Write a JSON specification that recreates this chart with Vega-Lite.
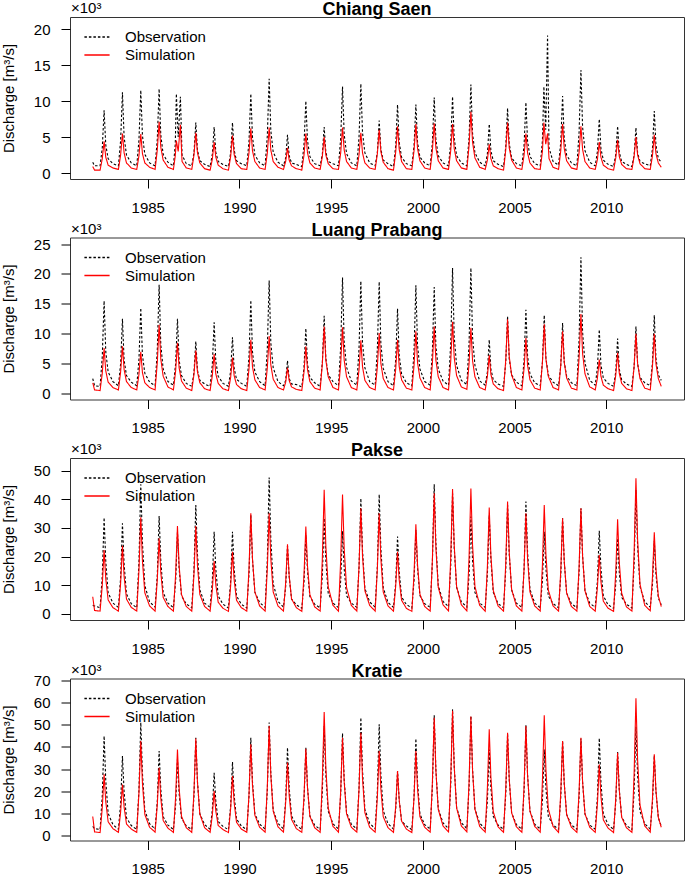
{
"$schema":"https://vega.github.io/schema/vega-lite/v6.json",
"padding":{"left":0,"right":0,"top":0,"bottom":0},
"config":{"font":"Liberation Sans","view":{"stroke":"#333","strokeWidth":1},"concat":{"spacing":4.5},"axis":{"labelOverlap":false,"grid":false,"domain":false,"tickSize":9,"tickColor":"black","labelColor":"black","labelFontSize":15,"titleColor":"black","titleFontWeight":"normal","titleFontSize":15},"axisX":{"labelPadding":12},"axisY":{"titlePadding":17,"labelPadding":11},
"legend":{"title":null,"orient":"none","legendX":17,"legendY":10,"padding":0,"labelFontSize":15,"labelColor":"black","symbolSize":324,"symbolStrokeWidth":1.5,"symbolType":"M-1.4,0H1.4","labelOffset":18,"rowPadding":0},
"title":{"fontSize":18,"fontWeight":"bold","color":"black","frame":"group","anchor":"middle","offset":-18,"baseline":"alphabetic"}},
"datasets":{
"cs":[
{"t":1982,"o":1.5,"m":0.9},
{"t":1982.1,"o":1.0,"m":0.4},{"t":1982.4,"o":1.0,"m":0.4},{"t":1982.52,"o":3.5,"m":2.0},{"t":1982.62,"o":8.7,"m":4.4},{"t":1982.71,"o":3.9,"m":2.2},{"t":1982.84,"o":2.0,"m":1.1},
{"t":1983.1,"o":1.3,"m":0.7},{"t":1983.4,"o":1.0,"m":0.5},{"t":1983.52,"o":4.5,"m":2.5},{"t":1983.62,"o":11.2,"m":5.5},{"t":1983.71,"o":5.0,"m":2.8},{"t":1983.84,"o":2.5,"m":1.4},
{"t":1984.1,"o":1.4,"m":0.7},{"t":1984.4,"o":1.0,"m":0.5},{"t":1984.52,"o":4.6,"m":2.4},{"t":1984.62,"o":11.5,"m":5.4},{"t":1984.71,"o":5.2,"m":2.7},{"t":1984.84,"o":2.6,"m":1.4},
{"t":1985.1,"o":1.4,"m":0.8},{"t":1985.4,"o":1.0,"m":0.5},{"t":1985.52,"o":4.7,"m":3.2},{"t":1985.62,"o":11.7,"m":7.1},{"t":1985.71,"o":5.3,"m":3.6},{"t":1985.84,"o":2.6,"m":1.8},
{"t":1986.1,"o":1.5,"m":0.8},{"t":1986.4,"o":1.0,"m":0.5},{"t":1986.5,"o":4.0,"m":2.4},{"t":1986.56,"o":11.0,"m":4.5},{"t":1986.66,"o":5.0,"m":3.0},{"t":1986.78,"o":10.6,"m":6.7},{"t":1986.87,"o":2.5,"m":1.6},
{"t":1987.1,"o":1.3,"m":0.7},{"t":1987.4,"o":1.0,"m":0.5},{"t":1987.52,"o":2.8,"m":2.5},{"t":1987.62,"o":7.0,"m":5.6},{"t":1987.71,"o":3.2,"m":2.8},{"t":1987.84,"o":1.7,"m":1.4},
{"t":1988.1,"o":1.2,"m":0.6},{"t":1988.4,"o":0.9,"m":0.4},{"t":1988.52,"o":2.6,"m":1.9},{"t":1988.62,"o":6.4,"m":4.3},{"t":1988.71,"o":2.9,"m":2.2},{"t":1988.84,"o":1.6,"m":1.1},
{"t":1989.1,"o":1.2,"m":0.6},{"t":1989.4,"o":0.9,"m":0.4},{"t":1989.52,"o":2.8,"m":2.3},{"t":1989.62,"o":7.0,"m":5.2},{"t":1989.71,"o":3.2,"m":2.6},{"t":1989.84,"o":1.7,"m":1.3},
{"t":1990.1,"o":1.3,"m":0.6},{"t":1990.4,"o":1.0,"m":0.5},{"t":1990.52,"o":4.4,"m":2.8},{"t":1990.62,"o":11.0,"m":6.2},{"t":1990.71,"o":5.0,"m":3.1},{"t":1990.84,"o":2.5,"m":1.6},
{"t":1991.1,"o":1.4,"m":0.7},{"t":1991.4,"o":1.0,"m":0.5},{"t":1991.52,"o":5.2,"m":2.8},{"t":1991.62,"o":13.1,"m":6.3},{"t":1991.71,"o":5.9,"m":3.2},{"t":1991.84,"o":2.9,"m":1.6},
{"t":1992.1,"o":1.5,"m":0.8},{"t":1992.4,"o":1.0,"m":0.5},{"t":1992.52,"o":2.1,"m":1.6},{"t":1992.62,"o":5.3,"m":3.5},{"t":1992.71,"o":2.4,"m":1.8},{"t":1992.84,"o":1.4,"m":1.0},
{"t":1993.1,"o":1.2,"m":0.6},{"t":1993.4,"o":0.9,"m":0.4},{"t":1993.52,"o":4.0,"m":2.5},{"t":1993.62,"o":10.0,"m":5.5},{"t":1993.71,"o":4.5,"m":2.8},{"t":1993.84,"o":2.3,"m":1.4},
{"t":1994.1,"o":1.3,"m":0.7},{"t":1994.4,"o":1.0,"m":0.5},{"t":1994.52,"o":2.6,"m":2.3},{"t":1994.62,"o":6.4,"m":5.0},{"t":1994.71,"o":2.9,"m":2.5},{"t":1994.84,"o":1.6,"m":1.3},
{"t":1995.1,"o":1.3,"m":0.6},{"t":1995.4,"o":1.0,"m":0.5},{"t":1995.52,"o":4.8,"m":2.8},{"t":1995.62,"o":12.0,"m":6.3},{"t":1995.71,"o":5.4,"m":3.2},{"t":1995.84,"o":2.7,"m":1.6},
{"t":1996.1,"o":1.4,"m":0.7},{"t":1996.4,"o":1.0,"m":0.5},{"t":1996.52,"o":5.0,"m":2.5},{"t":1996.62,"o":12.4,"m":5.6},{"t":1996.71,"o":5.6,"m":2.8},{"t":1996.84,"o":2.8,"m":1.4},
{"t":1997.1,"o":1.4,"m":0.7},{"t":1997.4,"o":1.0,"m":0.5},{"t":1997.52,"o":2.9,"m":2.7},{"t":1997.62,"o":7.3,"m":6.0},{"t":1997.71,"o":3.3,"m":3.0},{"t":1997.84,"o":1.8,"m":1.5},
{"t":1998.1,"o":1.3,"m":0.6},{"t":1998.4,"o":0.9,"m":0.4},{"t":1998.52,"o":3.8,"m":2.9},{"t":1998.62,"o":9.5,"m":6.5},{"t":1998.71,"o":4.3,"m":3.3},{"t":1998.84,"o":2.2,"m":1.6},
{"t":1999.1,"o":1.3,"m":0.6},{"t":1999.4,"o":1.0,"m":0.5},{"t":1999.52,"o":3.8,"m":3.1},{"t":1999.62,"o":9.5,"m":6.8},{"t":1999.71,"o":4.3,"m":3.4},{"t":1999.84,"o":2.2,"m":1.7},
{"t":2000.1,"o":1.4,"m":0.7},{"t":2000.4,"o":1.0,"m":0.5},{"t":2000.52,"o":4.2,"m":3.1},{"t":2000.62,"o":10.5,"m":6.9},{"t":2000.71,"o":4.7,"m":3.5},{"t":2000.84,"o":2.4,"m":1.7},
{"t":2001.1,"o":1.4,"m":0.7},{"t":2001.4,"o":1.0,"m":0.5},{"t":2001.52,"o":4.2,"m":3.1},{"t":2001.62,"o":10.6,"m":6.8},{"t":2001.71,"o":4.8,"m":3.4},{"t":2001.84,"o":2.4,"m":1.7},
{"t":2002.1,"o":1.4,"m":0.7},{"t":2002.4,"o":1.0,"m":0.5},{"t":2002.52,"o":4.9,"m":3.8},{"t":2002.62,"o":12.3,"m":8.5},{"t":2002.71,"o":5.5,"m":4.3},{"t":2002.84,"o":2.8,"m":2.1},
{"t":2003.1,"o":1.5,"m":0.8},{"t":2003.4,"o":1.0,"m":0.5},{"t":2003.52,"o":2.7,"m":1.8},{"t":2003.62,"o":6.8,"m":4.0},{"t":2003.71,"o":3.1,"m":2.0},{"t":2003.84,"o":1.7,"m":1.0},
{"t":2004.1,"o":1.2,"m":0.6},{"t":2004.4,"o":0.9,"m":0.4},{"t":2004.52,"o":3.6,"m":3.2},{"t":2004.62,"o":9.0,"m":7.0},{"t":2004.71,"o":4.1,"m":3.5},{"t":2004.84,"o":2.1,"m":1.8},
{"t":2005.1,"o":1.3,"m":0.7},{"t":2005.4,"o":1.0,"m":0.5},{"t":2005.52,"o":3.9,"m":2.5},{"t":2005.62,"o":9.8,"m":5.5},{"t":2005.71,"o":4.4,"m":2.8},{"t":2005.84,"o":2.3,"m":1.4},
{"t":2006.1,"o":1.3,"m":0.6},{"t":2006.4,"o":1.0,"m":0.5},{"t":2006.52,"o":4.5,"m":3.0},{"t":2006.6,"o":12.0,"m":7.0},{"t":2006.7,"o":6.0,"m":4.0},{"t":2006.8,"o":19.1,"m":5.5},{"t":2006.88,"o":3.5,"m":2.0},
{"t":2007.1,"o":1.6,"m":0.8},{"t":2007.4,"o":1.1,"m":0.5},{"t":2007.52,"o":4.3,"m":3.1},{"t":2007.62,"o":10.7,"m":6.8},{"t":2007.71,"o":4.8,"m":3.4},{"t":2007.84,"o":2.5,"m":1.7},
{"t":2008.1,"o":1.4,"m":0.7},{"t":2008.4,"o":1.0,"m":0.5},{"t":2008.52,"o":5.7,"m":2.9},{"t":2008.62,"o":14.3,"m":6.5},{"t":2008.71,"o":6.4,"m":3.3},{"t":2008.84,"o":3.1,"m":1.6},
{"t":2009.1,"o":1.5,"m":0.7},{"t":2009.4,"o":1.0,"m":0.5},{"t":2009.52,"o":3.0,"m":1.9},{"t":2009.62,"o":7.5,"m":4.3},{"t":2009.71,"o":3.4,"m":2.2},{"t":2009.84,"o":1.8,"m":1.1},
{"t":2010.1,"o":1.2,"m":0.6},{"t":2010.4,"o":0.9,"m":0.4},{"t":2010.52,"o":2.6,"m":2.1},{"t":2010.62,"o":6.5,"m":4.6},{"t":2010.71,"o":2.9,"m":2.3},{"t":2010.84,"o":1.6,"m":1.2},
{"t":2011.1,"o":1.2,"m":0.6},{"t":2011.4,"o":0.9,"m":0.5},{"t":2011.52,"o":2.5,"m":2.3},{"t":2011.62,"o":6.3,"m":5.0},{"t":2011.71,"o":2.8,"m":2.5},{"t":2011.84,"o":1.6,"m":1.3},
{"t":2012.1,"o":1.3,"m":0.6},{"t":2012.4,"o":1.0,"m":0.5},{"t":2012.52,"o":3.4,"m":2.4},{"t":2012.62,"o":8.6,"m":5.3},{"t":2012.71,"o":3.9,"m":2.7},{"t":2012.84,"o":2.0,"m":1.4},
{"t":2013,"o":1.5,"m":0.8}
],
"lp":[
{"t":1982,"o":2.5,"m":1.8},
{"t":1982.1,"o":1.3,"m":0.6},{"t":1982.4,"o":1.2,"m":0.5},{"t":1982.52,"o":6.2,"m":3.4},{"t":1982.62,"o":15.5,"m":7.6},{"t":1982.71,"o":7.0,"m":3.8},{"t":1982.84,"o":3.6,"m":1.9},
{"t":1983.1,"o":2.0,"m":1.0},{"t":1983.4,"o":1.3,"m":0.6},{"t":1983.52,"o":5.0,"m":3.6},{"t":1983.62,"o":12.5,"m":7.9},{"t":1983.71,"o":5.6,"m":4.0},{"t":1983.84,"o":3.0,"m":2.0},
{"t":1984.1,"o":1.9,"m":1.0},{"t":1984.4,"o":1.3,"m":0.6},{"t":1984.52,"o":5.7,"m":3.2},{"t":1984.62,"o":14.3,"m":7.0},{"t":1984.71,"o":6.4,"m":3.5},{"t":1984.84,"o":3.4,"m":1.8},
{"t":1985.1,"o":1.9,"m":1.0},{"t":1985.4,"o":1.3,"m":0.6},{"t":1985.52,"o":7.3,"m":5.2},{"t":1985.62,"o":18.2,"m":11.5},{"t":1985.71,"o":8.2,"m":5.8},{"t":1985.84,"o":4.1,"m":2.9},
{"t":1986.1,"o":2.0,"m":1.1},{"t":1986.4,"o":1.4,"m":0.6},{"t":1986.52,"o":5.0,"m":3.8},{"t":1986.62,"o":12.5,"m":8.5},{"t":1986.71,"o":5.6,"m":4.3},{"t":1986.84,"o":3.0,"m":2.1},
{"t":1987.1,"o":1.7,"m":0.9},{"t":1987.4,"o":1.2,"m":0.5},{"t":1987.52,"o":3.5,"m":3.2},{"t":1987.62,"o":8.7,"m":7.2},{"t":1987.71,"o":3.9,"m":3.6},{"t":1987.84,"o":2.2,"m":1.8},
{"t":1988.1,"o":1.6,"m":0.8},{"t":1988.4,"o":1.2,"m":0.5},{"t":1988.52,"o":4.8,"m":3.0},{"t":1988.62,"o":11.9,"m":6.6},{"t":1988.71,"o":5.4,"m":3.3},{"t":1988.84,"o":2.9,"m":1.7},
{"t":1989.1,"o":1.7,"m":0.8},{"t":1989.4,"o":1.2,"m":0.5},{"t":1989.52,"o":3.8,"m":2.7},{"t":1989.62,"o":9.4,"m":6.0},{"t":1989.71,"o":4.2,"m":3.0},{"t":1989.84,"o":2.4,"m":1.5},
{"t":1990.1,"o":1.7,"m":0.8},{"t":1990.4,"o":1.2,"m":0.5},{"t":1990.52,"o":6.2,"m":4.1},{"t":1990.62,"o":15.6,"m":9.0},{"t":1990.71,"o":7.0,"m":4.5},{"t":1990.84,"o":3.6,"m":2.3},
{"t":1991.1,"o":2.0,"m":1.0},{"t":1991.4,"o":1.3,"m":0.6},{"t":1991.52,"o":7.6,"m":4.3},{"t":1991.62,"o":18.9,"m":9.6},{"t":1991.71,"o":8.5,"m":4.8},{"t":1991.84,"o":4.3,"m":2.4},
{"t":1992.1,"o":2.0,"m":1.0},{"t":1992.4,"o":1.3,"m":0.6},{"t":1992.52,"o":2.2,"m":1.9},{"t":1992.62,"o":5.5,"m":4.3},{"t":1992.71,"o":2.5,"m":2.2},{"t":1992.84,"o":1.6,"m":1.1},
{"t":1993.1,"o":1.5,"m":0.7},{"t":1993.4,"o":1.1,"m":0.5},{"t":1993.52,"o":4.4,"m":3.6},{"t":1993.62,"o":10.9,"m":7.9},{"t":1993.71,"o":4.9,"m":4.0},{"t":1993.84,"o":2.7,"m":2.0},
{"t":1994.1,"o":1.8,"m":0.9},{"t":1994.4,"o":1.2,"m":0.6},{"t":1994.52,"o":5.2,"m":5.0},{"t":1994.62,"o":13.0,"m":11.2},{"t":1994.71,"o":5.9,"m":5.6},{"t":1994.84,"o":3.1,"m":2.8},
{"t":1995.1,"o":2.0,"m":1.0},{"t":1995.4,"o":1.3,"m":0.6},{"t":1995.52,"o":7.8,"m":5.0},{"t":1995.62,"o":19.4,"m":11.1},{"t":1995.71,"o":8.7,"m":5.6},{"t":1995.84,"o":4.4,"m":2.8},
{"t":1996.1,"o":2.1,"m":1.0},{"t":1996.4,"o":1.4,"m":0.6},{"t":1996.52,"o":7.5,"m":4.0},{"t":1996.62,"o":18.8,"m":8.9},{"t":1996.71,"o":8.5,"m":4.5},{"t":1996.84,"o":4.3,"m":2.2},
{"t":1997.1,"o":2.0,"m":1.0},{"t":1997.4,"o":1.4,"m":0.6},{"t":1997.52,"o":7.5,"m":4.5},{"t":1997.62,"o":18.7,"m":10.1},{"t":1997.71,"o":8.4,"m":5.1},{"t":1997.84,"o":4.2,"m":2.5},
{"t":1998.1,"o":2.0,"m":1.0},{"t":1998.4,"o":1.3,"m":0.6},{"t":1998.52,"o":5.7,"m":4.1},{"t":1998.62,"o":14.2,"m":9.0},{"t":1998.71,"o":6.4,"m":4.5},{"t":1998.84,"o":3.3,"m":2.3},
{"t":1999.1,"o":1.8,"m":0.9},{"t":1999.4,"o":1.3,"m":0.6},{"t":1999.52,"o":7.2,"m":4.7},{"t":1999.62,"o":18.1,"m":10.4},{"t":1999.71,"o":8.1,"m":5.2},{"t":1999.84,"o":4.1,"m":2.6},
{"t":2000.1,"o":2.0,"m":1.0},{"t":2000.4,"o":1.4,"m":0.6},{"t":2000.52,"o":7.1,"m":5.0},{"t":2000.62,"o":17.8,"m":11.2},{"t":2000.71,"o":8.0,"m":5.6},{"t":2000.84,"o":4.1,"m":2.8},
{"t":2001.1,"o":2.1,"m":1.0},{"t":2001.4,"o":1.4,"m":0.6},{"t":2001.52,"o":8.4,"m":5.4},{"t":2001.62,"o":21.0,"m":12.0},{"t":2001.71,"o":9.5,"m":6.0},{"t":2001.84,"o":4.7,"m":3.0},
{"t":2002.1,"o":2.2,"m":1.1},{"t":2002.4,"o":1.5,"m":0.7},{"t":2002.52,"o":8.4,"m":5.0},{"t":2002.62,"o":21.0,"m":11.0},{"t":2002.71,"o":9.5,"m":5.5},{"t":2002.84,"o":4.7,"m":2.8},
{"t":2003.1,"o":2.1,"m":1.0},{"t":2003.4,"o":1.4,"m":0.6},{"t":2003.52,"o":3.6,"m":2.9},{"t":2003.62,"o":9.0,"m":6.4},{"t":2003.71,"o":4.1,"m":3.2},{"t":2003.84,"o":2.3,"m":1.6},
{"t":2004.1,"o":1.6,"m":0.8},{"t":2004.4,"o":1.2,"m":0.5},{"t":2004.52,"o":5.2,"m":5.6},{"t":2004.62,"o":12.9,"m":12.4},{"t":2004.71,"o":5.8,"m":6.2},{"t":2004.84,"o":3.1,"m":3.1},
{"t":2005.1,"o":1.9,"m":1.0},{"t":2005.4,"o":1.3,"m":0.6},{"t":2005.52,"o":5.6,"m":4.2},{"t":2005.62,"o":14.0,"m":9.3},{"t":2005.71,"o":6.3,"m":4.7},{"t":2005.84,"o":3.3,"m":2.3},
{"t":2006.1,"o":1.8,"m":0.9},{"t":2006.4,"o":1.3,"m":0.6},{"t":2006.52,"o":5.2,"m":5.2},{"t":2006.62,"o":13.1,"m":11.6},{"t":2006.71,"o":5.9,"m":5.8},{"t":2006.84,"o":3.1,"m":2.9},
{"t":2007.1,"o":1.9,"m":1.0},{"t":2007.4,"o":1.3,"m":0.6},{"t":2007.52,"o":4.7,"m":4.7},{"t":2007.62,"o":11.8,"m":10.4},{"t":2007.71,"o":5.3,"m":5.2},{"t":2007.84,"o":2.9,"m":2.6},
{"t":2008.1,"o":1.8,"m":0.9},{"t":2008.4,"o":1.3,"m":0.6},{"t":2008.52,"o":9.1,"m":6.0},{"t":2008.62,"o":22.8,"m":13.3},{"t":2008.71,"o":10.3,"m":6.7},{"t":2008.84,"o":5.1,"m":3.3},
{"t":2009.1,"o":2.2,"m":1.1},{"t":2009.4,"o":1.4,"m":0.6},{"t":2009.52,"o":4.3,"m":2.6},{"t":2009.62,"o":10.7,"m":5.7},{"t":2009.71,"o":4.8,"m":2.9},{"t":2009.84,"o":2.6,"m":1.4},
{"t":2010.1,"o":1.7,"m":0.8},{"t":2010.4,"o":1.2,"m":0.5},{"t":2010.52,"o":3.7,"m":3.1},{"t":2010.62,"o":9.2,"m":6.8},{"t":2010.71,"o":4.1,"m":3.4},{"t":2010.84,"o":2.3,"m":1.7},
{"t":2011.1,"o":1.6,"m":0.8},{"t":2011.4,"o":1.2,"m":0.5},{"t":2011.52,"o":4.5,"m":4.5},{"t":2011.62,"o":11.2,"m":10.0},{"t":2011.71,"o":5.0,"m":5.0},{"t":2011.84,"o":2.7,"m":2.5},
{"t":2012.1,"o":1.8,"m":0.9},{"t":2012.4,"o":1.3,"m":0.6},{"t":2012.52,"o":5.2,"m":4.5},{"t":2012.62,"o":13.1,"m":10.0},{"t":2012.71,"o":5.9,"m":5.0},{"t":2012.84,"o":3.1,"m":2.5},
{"t":2013,"o":2.2,"m":1.2}
],
"pk":[
{"t":1982,"o":3.0,"m":6.0},
{"t":1982.1,"o":2.8,"m":1.2},{"t":1982.4,"o":2.2,"m":1.0},{"t":1982.52,"o":13.4,"m":10.0},{"t":1982.62,"o":33.6,"m":22.3},{"t":1982.71,"o":18.5,"m":12.3},{"t":1982.84,"o":7.4,"m":4.9},
{"t":1983.1,"o":3.8,"m":2.2},{"t":1983.4,"o":2.3,"m":1.0},{"t":1983.52,"o":12.6,"m":10.7},{"t":1983.62,"o":31.6,"m":23.8},{"t":1983.71,"o":17.4,"m":13.1},{"t":1983.84,"o":7.0,"m":5.2},
{"t":1984.1,"o":3.6,"m":2.3},{"t":1984.4,"o":2.2,"m":1.0},{"t":1984.52,"o":18.1,"m":15.2},{"t":1984.62,"o":45.2,"m":33.7},{"t":1984.71,"o":24.9,"m":18.5},{"t":1984.84,"o":9.9,"m":7.4},
{"t":1985.1,"o":4.2,"m":2.8},{"t":1985.4,"o":2.4,"m":1.0},{"t":1985.52,"o":13.7,"m":11.9},{"t":1985.62,"o":34.2,"m":26.4},{"t":1985.71,"o":18.8,"m":14.5},{"t":1985.84,"o":7.5,"m":5.8},
{"t":1986.1,"o":3.8,"m":2.6},{"t":1986.4,"o":2.2,"m":1.0},{"t":1986.52,"o":11.4,"m":13.8},{"t":1986.62,"o":28.5,"m":30.7},{"t":1986.71,"o":15.7,"m":16.9},{"t":1986.84,"o":6.3,"m":6.8},
{"t":1987.1,"o":3.5,"m":2.6},{"t":1987.4,"o":2.2,"m":1.0},{"t":1987.52,"o":15.2,"m":13.8},{"t":1987.62,"o":38.0,"m":30.7},{"t":1987.71,"o":20.9,"m":16.9},{"t":1987.84,"o":8.4,"m":6.8},
{"t":1988.1,"o":3.8,"m":2.6},{"t":1988.4,"o":2.3,"m":1.0},{"t":1988.52,"o":11.5,"m":8.3},{"t":1988.62,"o":28.7,"m":18.5},{"t":1988.71,"o":15.8,"m":10.2},{"t":1988.84,"o":6.3,"m":4.1},
{"t":1989.1,"o":3.4,"m":2.0},{"t":1989.4,"o":2.1,"m":0.9},{"t":1989.52,"o":11.5,"m":9.8},{"t":1989.62,"o":28.7,"m":21.7},{"t":1989.71,"o":15.8,"m":11.9},{"t":1989.84,"o":6.3,"m":4.8},
{"t":1990.1,"o":3.4,"m":2.2},{"t":1990.4,"o":2.1,"m":1.0},{"t":1990.52,"o":13.8,"m":15.8},{"t":1990.62,"o":34.5,"m":35.1},{"t":1990.71,"o":19.0,"m":19.3},{"t":1990.84,"o":7.6,"m":7.7},
{"t":1991.1,"o":4.0,"m":2.8},{"t":1991.4,"o":2.3,"m":1.0},{"t":1991.52,"o":19.0,"m":15.8},{"t":1991.62,"o":47.6,"m":35.1},{"t":1991.71,"o":26.2,"m":19.3},{"t":1991.84,"o":10.5,"m":7.7},
{"t":1992.1,"o":4.4,"m":2.8},{"t":1992.4,"o":2.4,"m":1.0},{"t":1992.52,"o":9.5,"m":10.9},{"t":1992.62,"o":23.8,"m":24.3},{"t":1992.71,"o":13.1,"m":13.4},{"t":1992.84,"o":5.2,"m":5.3},
{"t":1993.1,"o":3.2,"m":2.2},{"t":1993.4,"o":2.0,"m":0.9},{"t":1993.52,"o":11.0,"m":13.7},{"t":1993.62,"o":27.6,"m":30.5},{"t":1993.71,"o":15.2,"m":16.8},{"t":1993.84,"o":6.1,"m":6.7},
{"t":1994.1,"o":3.4,"m":2.5},{"t":1994.4,"o":2.1,"m":1.0},{"t":1994.52,"o":13.4,"m":19.5},{"t":1994.62,"o":33.4,"m":43.3},{"t":1994.71,"o":18.4,"m":23.8},{"t":1994.84,"o":7.3,"m":9.5},
{"t":1995.1,"o":3.8,"m":3.0},{"t":1995.4,"o":2.2,"m":1.0},{"t":1995.52,"o":11.6,"m":18.8},{"t":1995.62,"o":28.9,"m":41.7},{"t":1995.71,"o":15.9,"m":22.9},{"t":1995.84,"o":6.4,"m":9.2},
{"t":1996.1,"o":3.8,"m":3.0},{"t":1996.4,"o":2.3,"m":1.0},{"t":1996.52,"o":16.1,"m":16.6},{"t":1996.62,"o":40.3,"m":36.9},{"t":1996.71,"o":22.2,"m":20.3},{"t":1996.84,"o":8.9,"m":8.1},
{"t":1997.1,"o":4.2,"m":3.0},{"t":1997.4,"o":2.4,"m":1.0},{"t":1997.52,"o":16.7,"m":15.8},{"t":1997.62,"o":41.7,"m":35.1},{"t":1997.71,"o":22.9,"m":19.3},{"t":1997.84,"o":9.2,"m":7.7},
{"t":1998.1,"o":4.0,"m":2.8},{"t":1998.4,"o":2.3,"m":1.0},{"t":1998.52,"o":10.8,"m":9.8},{"t":1998.62,"o":27.0,"m":21.7},{"t":1998.71,"o":14.9,"m":11.9},{"t":1998.84,"o":5.9,"m":4.8},
{"t":1999.1,"o":3.3,"m":2.0},{"t":1999.4,"o":2.1,"m":0.9},{"t":1999.52,"o":11.7,"m":14.1},{"t":1999.62,"o":29.3,"m":31.3},{"t":1999.71,"o":16.1,"m":17.2},{"t":1999.84,"o":6.4,"m":6.9},
{"t":2000.1,"o":3.6,"m":2.6},{"t":2000.4,"o":2.3,"m":1.0},{"t":2000.52,"o":18.1,"m":18.9},{"t":2000.62,"o":45.2,"m":42.1},{"t":2000.71,"o":24.9,"m":23.2},{"t":2000.84,"o":9.9,"m":9.3},
{"t":2001.1,"o":4.4,"m":3.2},{"t":2001.4,"o":2.5,"m":1.1},{"t":2001.52,"o":16.8,"m":19.6},{"t":2001.62,"o":42.1,"m":43.6},{"t":2001.71,"o":23.2,"m":24.0},{"t":2001.84,"o":9.3,"m":9.6},
{"t":2002.1,"o":4.2,"m":3.2},{"t":2002.4,"o":2.4,"m":1.1},{"t":2002.52,"o":13.6,"m":19.7},{"t":2002.62,"o":34.0,"m":43.8},{"t":2002.71,"o":18.7,"m":24.1},{"t":2002.84,"o":7.5,"m":9.6},
{"t":2003.1,"o":3.8,"m":3.0},{"t":2003.4,"o":2.3,"m":1.0},{"t":2003.52,"o":13.8,"m":16.7},{"t":2003.62,"o":34.5,"m":37.1},{"t":2003.71,"o":19.0,"m":20.4},{"t":2003.84,"o":7.6,"m":8.2},
{"t":2004.1,"o":3.6,"m":2.8},{"t":2004.4,"o":2.2,"m":1.0},{"t":2004.52,"o":15.2,"m":17.6},{"t":2004.62,"o":38.0,"m":39.2},{"t":2004.71,"o":20.9,"m":21.6},{"t":2004.84,"o":8.4,"m":8.6},
{"t":2005.1,"o":3.8,"m":2.8},{"t":2005.4,"o":2.3,"m":1.0},{"t":2005.52,"o":15.7,"m":15.8},{"t":2005.62,"o":39.2,"m":35.1},{"t":2005.71,"o":21.6,"m":19.3},{"t":2005.84,"o":8.6,"m":7.7},
{"t":2006.1,"o":3.8,"m":2.8},{"t":2006.4,"o":2.2,"m":1.0},{"t":2006.52,"o":11.5,"m":17.1},{"t":2006.62,"o":28.7,"m":38.0},{"t":2006.71,"o":15.8,"m":20.9},{"t":2006.84,"o":6.3,"m":8.4},
{"t":2007.1,"o":3.6,"m":2.8},{"t":2007.4,"o":2.2,"m":1.0},{"t":2007.52,"o":13.4,"m":15.0},{"t":2007.62,"o":33.4,"m":33.4},{"t":2007.71,"o":18.4,"m":18.4},{"t":2007.84,"o":7.3,"m":7.3},
{"t":2008.1,"o":3.6,"m":2.6},{"t":2008.4,"o":2.2,"m":1.0},{"t":2008.52,"o":14.8,"m":16.6},{"t":2008.62,"o":36.9,"m":36.9},{"t":2008.71,"o":20.3,"m":20.3},{"t":2008.84,"o":8.1,"m":8.1},
{"t":2009.1,"o":3.8,"m":2.6},{"t":2009.4,"o":2.3,"m":1.0},{"t":2009.52,"o":11.6,"m":9.3},{"t":2009.62,"o":29.0,"m":20.6},{"t":2009.71,"o":16.0,"m":11.3},{"t":2009.84,"o":6.4,"m":4.5},
{"t":2010.1,"o":3.2,"m":2.0},{"t":2010.4,"o":2.0,"m":0.9},{"t":2010.52,"o":10.6,"m":14.9},{"t":2010.62,"o":26.4,"m":33.0},{"t":2010.71,"o":14.5,"m":18.2},{"t":2010.84,"o":5.8,"m":7.3},
{"t":2011.1,"o":3.4,"m":2.5},{"t":2011.4,"o":2.1,"m":1.0},{"t":2011.52,"o":17.3,"m":21.3},{"t":2011.62,"o":43.3,"m":47.3},{"t":2011.71,"o":23.8,"m":26.0},{"t":2011.84,"o":9.5,"m":10.4},
{"t":2012.1,"o":4.2,"m":3.0},{"t":2012.4,"o":2.4,"m":1.1},{"t":2012.52,"o":10.2,"m":12.8},{"t":2012.62,"o":25.5,"m":28.5},{"t":2012.71,"o":14.0,"m":15.7},{"t":2012.84,"o":5.6,"m":6.3},
{"t":2013,"o":3.2,"m":2.6}
],
"kr":[
{"t":1982,"o":4.0,"m":8.5},
{"t":1982.1,"o":3.0,"m":1.5},{"t":1982.4,"o":2.6,"m":1.2},{"t":1982.52,"o":18.0,"m":12.4},{"t":1982.62,"o":45.0,"m":27.6},{"t":1982.71,"o":24.8,"m":15.2},{"t":1982.84,"o":9.9,"m":6.1},
{"t":1983.1,"o":4.8,"m":3.0},{"t":1983.4,"o":2.7,"m":1.3},{"t":1983.52,"o":14.4,"m":10.4},{"t":1983.62,"o":35.9,"m":23.0},{"t":1983.71,"o":19.7,"m":12.7},{"t":1983.84,"o":7.9,"m":5.1},
{"t":1984.1,"o":4.4,"m":2.8},{"t":1984.4,"o":2.6,"m":1.3},{"t":1984.52,"o":20.4,"m":19.2},{"t":1984.62,"o":51.1,"m":42.7},{"t":1984.71,"o":28.1,"m":23.5},{"t":1984.84,"o":11.2,"m":9.4},
{"t":1985.1,"o":5.2,"m":3.6},{"t":1985.4,"o":2.8,"m":1.4},{"t":1985.52,"o":15.3,"m":13.8},{"t":1985.62,"o":38.2,"m":30.6},{"t":1985.71,"o":21.0,"m":16.8},{"t":1985.84,"o":8.4,"m":6.7},
{"t":1986.1,"o":4.6,"m":3.2},{"t":1986.4,"o":2.6,"m":1.3},{"t":1986.52,"o":13.8,"m":17.5},{"t":1986.62,"o":34.4,"m":38.9},{"t":1986.71,"o":18.9,"m":21.4},{"t":1986.84,"o":7.6,"m":8.6},
{"t":1987.1,"o":4.2,"m":3.4},{"t":1987.4,"o":2.6,"m":1.3},{"t":1987.52,"o":17.7,"m":19.7},{"t":1987.62,"o":44.2,"m":43.8},{"t":1987.71,"o":24.3,"m":24.1},{"t":1987.84,"o":9.7,"m":9.6},
{"t":1988.1,"o":4.8,"m":3.4},{"t":1988.4,"o":2.7,"m":1.3},{"t":1988.52,"o":11.3,"m":9.0},{"t":1988.62,"o":28.3,"m":20.0},{"t":1988.71,"o":15.6,"m":11.0},{"t":1988.84,"o":6.2,"m":4.4},
{"t":1989.1,"o":4.0,"m":2.6},{"t":1989.4,"o":2.5,"m":1.2},{"t":1989.52,"o":13.3,"m":12.1},{"t":1989.62,"o":33.2,"m":26.8},{"t":1989.71,"o":18.3,"m":14.7},{"t":1989.84,"o":7.3,"m":5.9},
{"t":1990.1,"o":4.2,"m":2.8},{"t":1990.4,"o":2.5,"m":1.3},{"t":1990.52,"o":17.7,"m":18.5},{"t":1990.62,"o":44.2,"m":41.2},{"t":1990.71,"o":24.3,"m":22.7},{"t":1990.84,"o":9.7,"m":9.1},
{"t":1991.1,"o":5.0,"m":3.6},{"t":1991.4,"o":2.8,"m":1.4},{"t":1991.52,"o":20.4,"m":22.3},{"t":1991.62,"o":51.1,"m":49.5},{"t":1991.71,"o":28.1,"m":27.2},{"t":1991.84,"o":11.2,"m":10.9},
{"t":1992.1,"o":5.4,"m":3.8},{"t":1992.4,"o":2.9,"m":1.4},{"t":1992.52,"o":15.9,"m":14.8},{"t":1992.62,"o":39.7,"m":32.9},{"t":1992.71,"o":21.8,"m":18.1},{"t":1992.84,"o":8.7,"m":7.2},
{"t":1993.1,"o":4.6,"m":3.0},{"t":1993.4,"o":2.6,"m":1.3},{"t":1993.52,"o":15.9,"m":17.6},{"t":1993.62,"o":39.7,"m":39.2},{"t":1993.71,"o":21.8,"m":21.6},{"t":1993.84,"o":8.7,"m":8.6},
{"t":1994.1,"o":4.6,"m":3.4},{"t":1994.4,"o":2.6,"m":1.3},{"t":1994.52,"o":19.8,"m":25.2},{"t":1994.62,"o":49.5,"m":55.9},{"t":1994.71,"o":27.2,"m":30.7},{"t":1994.84,"o":10.9,"m":12.3},
{"t":1995.1,"o":5.2,"m":4.0},{"t":1995.4,"o":2.8,"m":1.4},{"t":1995.52,"o":18.5,"m":19.9},{"t":1995.62,"o":46.2,"m":44.2},{"t":1995.71,"o":25.4,"m":24.3},{"t":1995.84,"o":10.2,"m":9.7},
{"t":1996.1,"o":5.0,"m":3.6},{"t":1996.4,"o":2.8,"m":1.4},{"t":1996.52,"o":21.3,"m":20.9},{"t":1996.62,"o":53.3,"m":46.5},{"t":1996.71,"o":29.3,"m":25.6},{"t":1996.84,"o":11.7,"m":10.2},
{"t":1997.1,"o":5.4,"m":3.6},{"t":1997.4,"o":2.9,"m":1.4},{"t":1997.52,"o":20.1,"m":17.2},{"t":1997.62,"o":50.3,"m":38.2},{"t":1997.71,"o":27.7,"m":21.0},{"t":1997.84,"o":11.1,"m":8.4},
{"t":1998.1,"o":5.2,"m":3.4},{"t":1998.4,"o":2.8,"m":1.3},{"t":1998.52,"o":11.6,"m":13.1},{"t":1998.62,"o":29.1,"m":29.1},{"t":1998.71,"o":16.0,"m":16.0},{"t":1998.84,"o":6.4,"m":6.4},
{"t":1999.1,"o":4.2,"m":2.8},{"t":1999.4,"o":2.5,"m":1.2},{"t":1999.52,"o":17.5,"m":17.2},{"t":1999.62,"o":43.8,"m":38.2},{"t":1999.71,"o":24.1,"m":21.0},{"t":1999.84,"o":9.6,"m":8.4},
{"t":2000.1,"o":4.8,"m":3.6},{"t":2000.4,"o":2.8,"m":1.4},{"t":2000.52,"o":21.8,"m":24.0},{"t":2000.62,"o":54.4,"m":53.3},{"t":2000.71,"o":29.9,"m":29.3},{"t":2000.84,"o":12.0,"m":11.7},
{"t":2001.1,"o":5.6,"m":4.2},{"t":2001.4,"o":3.0,"m":1.5},{"t":2001.52,"o":22.8,"m":25.4},{"t":2001.62,"o":57.1,"m":56.4},{"t":2001.71,"o":31.4,"m":31.0},{"t":2001.84,"o":12.6,"m":12.4},
{"t":2002.1,"o":5.6,"m":4.2},{"t":2002.4,"o":3.0,"m":1.5},{"t":2002.52,"o":21.6,"m":24.2},{"t":2002.62,"o":54.1,"m":53.8},{"t":2002.71,"o":29.8,"m":29.6},{"t":2002.84,"o":11.9,"m":11.8},
{"t":2003.1,"o":5.4,"m":4.0},{"t":2003.4,"o":2.9,"m":1.4},{"t":2003.52,"o":15.6,"m":21.6},{"t":2003.62,"o":38.9,"m":48.0},{"t":2003.71,"o":21.4,"m":26.4},{"t":2003.84,"o":8.6,"m":10.6},
{"t":2004.1,"o":4.6,"m":3.8},{"t":2004.4,"o":2.7,"m":1.3},{"t":2004.52,"o":18.3,"m":20.9},{"t":2004.62,"o":45.8,"m":46.5},{"t":2004.71,"o":25.2,"m":25.6},{"t":2004.84,"o":10.1,"m":10.2},
{"t":2005.1,"o":4.8,"m":3.8},{"t":2005.4,"o":2.7,"m":1.3},{"t":2005.52,"o":19.9,"m":22.3},{"t":2005.62,"o":49.8,"m":49.5},{"t":2005.71,"o":27.4,"m":27.2},{"t":2005.84,"o":11.0,"m":10.9},
{"t":2006.1,"o":5.0,"m":4.0},{"t":2006.4,"o":2.8,"m":1.4},{"t":2006.52,"o":15.6,"m":24.5},{"t":2006.62,"o":38.9,"m":54.4},{"t":2006.71,"o":21.4,"m":29.9},{"t":2006.84,"o":8.6,"m":12.0},
{"t":2007.1,"o":4.6,"m":4.0},{"t":2007.4,"o":2.7,"m":1.3},{"t":2007.52,"o":17.1,"m":19.2},{"t":2007.62,"o":42.7,"m":42.7},{"t":2007.71,"o":23.5,"m":23.5},{"t":2007.84,"o":9.4,"m":9.4},
{"t":2008.1,"o":4.6,"m":3.6},{"t":2008.4,"o":2.7,"m":1.3},{"t":2008.52,"o":17.5,"m":19.9},{"t":2008.62,"o":43.8,"m":44.2},{"t":2008.71,"o":24.1,"m":24.3},{"t":2008.84,"o":9.6,"m":9.7},
{"t":2009.1,"o":4.6,"m":3.6},{"t":2009.4,"o":2.7,"m":1.3},{"t":2009.52,"o":17.6,"m":14.4},{"t":2009.62,"o":44.0,"m":32.0},{"t":2009.71,"o":24.2,"m":17.6},{"t":2009.84,"o":9.7,"m":7.0},
{"t":2010.1,"o":4.8,"m":3.2},{"t":2010.4,"o":2.6,"m":1.2},{"t":2010.52,"o":15.1,"m":16.8},{"t":2010.62,"o":37.7,"m":37.4},{"t":2010.71,"o":20.7,"m":20.6},{"t":2010.84,"o":8.3,"m":8.2},
{"t":2011.1,"o":4.4,"m":3.4},{"t":2011.4,"o":2.6,"m":1.3},{"t":2011.52,"o":19.7,"m":27.9},{"t":2011.62,"o":49.2,"m":62.1},{"t":2011.71,"o":27.1,"m":34.2},{"t":2011.84,"o":10.8,"m":13.7},
{"t":2012.1,"o":5.2,"m":4.2},{"t":2012.4,"o":2.8,"m":1.4},{"t":2012.52,"o":14.5,"m":16.5},{"t":2012.62,"o":36.2,"m":36.7},{"t":2012.71,"o":19.9,"m":20.2},{"t":2012.84,"o":8.0,"m":8.1},
{"t":2013,"o":4.0,"m":3.6}
]
},
"vconcat":[
{"width":614,"height":162,"title":{"text":"Chiang Saen"},
 "layer":[
  {"data":{"name":"cs"},"transform":[{"fold":["o","m"],"as":["k","v"]}],
   "mark":{"type":"line","strokeWidth":1.1},
   "encoding":{
    "x":{"field":"t","type":"quantitative","scale":{"domain":[1980.76,2014.24],"nice":false,"zero":false},"axis":{"values":[1985,1990,1995,2000,2005,2010],"format":"d","title":null}},
    "y":{"field":"v","type":"quantitative","scale":{"domain":[-0.83,21.67],"nice":false,"zero":false},"axis":{"values":[0,5,10,15,20],"title":"Discharge [m³/s]"}},
    "color":{"field":"k","type":"nominal","scale":{"domain":["o","m"],"range":["#000000","#ff0000"]},"legend":{"labelExpr":"datum.value=='o'?'Observation':'Simulation'"}},
    "strokeDash":{"field":"k","type":"nominal","scale":{"domain":["o","m"],"range":[[2.5,2],[1,0]]},"legend":{"labelExpr":"datum.value=='o'?'Observation':'Simulation'"}}
   }},
  {"data":{"values":[{"lab":"×10³"}]},"mark":{"type":"text","align":"left","baseline":"alphabetic","dx":1,"dy":-4,"fontSize":15,"color":"black"},
   "encoding":{"text":{"field":"lab"},"x":{"datum":1980.76,"type":"quantitative","axis":{"values":[1985,1990,1995,2000,2005,2010],"format":"d","title":null}},"y":{"datum":21.67,"type":"quantitative","axis":{"values":[0,5,10,15,20],"title":"Discharge [m³/s]"}}}}
 ]},
{"width":614,"height":162,"title":{"text":"Luang Prabang"},
 "layer":[
  {"data":{"name":"lp"},"transform":[{"fold":["o","m"],"as":["k","v"]}],
   "mark":{"type":"line","strokeWidth":1.1},
   "encoding":{
    "x":{"field":"t","type":"quantitative","scale":{"domain":[1980.76,2014.24],"nice":false,"zero":false},"axis":{"values":[1985,1990,1995,2000,2005,2010],"format":"d","title":null}},
    "y":{"field":"v","type":"quantitative","scale":{"domain":[-1.0,26.1],"nice":false,"zero":false},"axis":{"values":[0,5,10,15,20,25],"title":"Discharge [m³/s]"}},
    "color":{"field":"k","type":"nominal","scale":{"domain":["o","m"],"range":["#000000","#ff0000"]},"legend":{"labelExpr":"datum.value=='o'?'Observation':'Simulation'"}},
    "strokeDash":{"field":"k","type":"nominal","scale":{"domain":["o","m"],"range":[[2.5,2],[1,0]]},"legend":{"labelExpr":"datum.value=='o'?'Observation':'Simulation'"}}
   }},
  {"data":{"values":[{"lab":"×10³"}]},"mark":{"type":"text","align":"left","baseline":"alphabetic","dx":1,"dy":-4,"fontSize":15,"color":"black"},
   "encoding":{"text":{"field":"lab"},"x":{"datum":1980.76,"type":"quantitative","axis":{"values":[1985,1990,1995,2000,2005,2010],"format":"d","title":null}},"y":{"datum":26.1,"type":"quantitative","axis":{"values":[0,5,10,15,20,25],"title":"Discharge [m³/s]"}}}}
 ]},
{"width":614,"height":162,"title":{"text":"Pakse"},
 "layer":[
  {"data":{"name":"pk"},"transform":[{"fold":["o","m"],"as":["k","v"]}],
   "mark":{"type":"line","strokeWidth":1.1},
   "encoding":{
    "x":{"field":"t","type":"quantitative","scale":{"domain":[1980.76,2014.24],"nice":false,"zero":false},"axis":{"values":[1985,1990,1995,2000,2005,2010],"format":"d","title":null}},
    "y":{"field":"v","type":"quantitative","scale":{"domain":[-2.1,54.4],"nice":false,"zero":false},"axis":{"values":[0,10,20,30,40,50],"title":"Discharge [m³/s]"}},
    "color":{"field":"k","type":"nominal","scale":{"domain":["o","m"],"range":["#000000","#ff0000"]},"legend":{"labelExpr":"datum.value=='o'?'Observation':'Simulation'"}},
    "strokeDash":{"field":"k","type":"nominal","scale":{"domain":["o","m"],"range":[[2.5,2],[1,0]]},"legend":{"labelExpr":"datum.value=='o'?'Observation':'Simulation'"}}
   }},
  {"data":{"values":[{"lab":"×10³"}]},"mark":{"type":"text","align":"left","baseline":"alphabetic","dx":1,"dy":-4,"fontSize":15,"color":"black"},
   "encoding":{"text":{"field":"lab"},"x":{"datum":1980.76,"type":"quantitative","axis":{"values":[1985,1990,1995,2000,2005,2010],"format":"d","title":null}},"y":{"datum":54.4,"type":"quantitative","axis":{"values":[0,10,20,30,40,50],"title":"Discharge [m³/s]"}}}}
 ]},
{"width":614,"height":162,"title":{"text":"Kratie"},
 "layer":[
  {"data":{"name":"kr"},"transform":[{"fold":["o","m"],"as":["k","v"]}],
   "mark":{"type":"line","strokeWidth":1.1},
   "encoding":{
    "x":{"field":"t","type":"quantitative","scale":{"domain":[1980.76,2014.24],"nice":false,"zero":false},"axis":{"values":[1985,1990,1995,2000,2005,2010],"format":"d","title":null}},
    "y":{"field":"v","type":"quantitative","scale":{"domain":[-2.4,71.05],"nice":false,"zero":false},"axis":{"values":[0,10,20,30,40,50,60,70],"title":"Discharge [m³/s]"}},
    "color":{"field":"k","type":"nominal","scale":{"domain":["o","m"],"range":["#000000","#ff0000"]},"legend":{"labelExpr":"datum.value=='o'?'Observation':'Simulation'"}},
    "strokeDash":{"field":"k","type":"nominal","scale":{"domain":["o","m"],"range":[[2.5,2],[1,0]]},"legend":{"labelExpr":"datum.value=='o'?'Observation':'Simulation'"}}
   }},
  {"data":{"values":[{"lab":"×10³"}]},"mark":{"type":"text","align":"left","baseline":"alphabetic","dx":1,"dy":-4,"fontSize":15,"color":"black"},
   "encoding":{"text":{"field":"lab"},"x":{"datum":1980.76,"type":"quantitative","axis":{"values":[1985,1990,1995,2000,2005,2010],"format":"d","title":null}},"y":{"datum":71.05,"type":"quantitative","axis":{"values":[0,10,20,30,40,50,60,70],"title":"Discharge [m³/s]"}}}}
 ]}
],
"resolve":{"scale":{"x":"independent","y":"independent","color":"independent","strokeDash":"independent"}}
}
